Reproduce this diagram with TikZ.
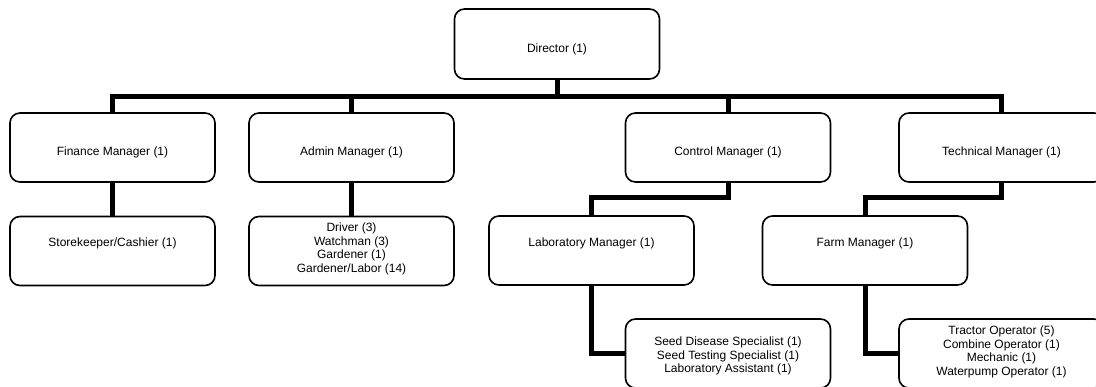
\documentclass[tikz,border=0pt]{standalone}
\usepackage{fontspec}
\setmainfont{Liberation Sans}
\tikzset{
  box/.style={draw=black, line width=1.6pt, rounded corners=10pt, fill=white,
    minimum width=205pt, minimum height=69pt, inner sep=0pt},
  lbl/.style={font=\fontsize{12}{13.7}\selectfont, align=center, inner sep=0pt},
  conn/.style={line width=5pt, line join=miter}
}
\begin{document}
\begin{tikzpicture}[x=1pt,y=-1pt]
\path[use as bounding box, clip] (0,0) rectangle (1096,386);
% boxes
\node[box, minimum height=70pt] (dir) at (557,44) {};
\node[box] (fin) at (112.5,147.5) {};
\node[box] (adm) at (351.5,147.5) {};
\node[box] (ctl) at (728,147.5) {};
\node[box] (tec) at (1001.5,147.5) {};
\node[box] (sto) at (112.5,251) {};
\node[box] (ads) at (351.5,251) {};
\node[box] (lab) at (591.5,250.5) {};
\node[box] (frm) at (865,250.5) {};
\node[box] (sed) at (728,353.5) {};
\node[box] (trc) at (1001.5,353.5) {};
% connectors
\coordinate (bus) at (0,96);
\coordinate (mid) at (0,197);
\draw[conn] (fin.north) -- (fin.north |- bus) -- (tec.north |- bus) -- (tec.north);
\draw[conn] (dir.south) -- (dir.south |- bus);
\draw[conn] (adm.north) -- (adm.north |- bus);
\draw[conn] (ctl.north) -- (ctl.north |- bus);
\draw[conn] (fin.south) -- (sto.north);
\draw[conn] (adm.south) -- (ads.north);
\draw[conn] (ctl.south) -- (ctl.south |- mid) -- (lab.north |- mid) -- (lab.north);
\draw[conn] (tec.south) -- (tec.south |- mid) -- (frm.north |- mid) -- (frm.north);
\draw[conn] (lab.south) -- (lab.south |- sed.west) -- (sed.west);
\draw[conn] (frm.south) -- (frm.south |- trc.west) -- (trc.west);
% texts
\node[lbl] (dir-t) at (557,49) {Director (1)};
\node[lbl] (fin-t) at (112.5,152) {Finance Manager (1)};
\node[lbl] (adm-t) at (351.5,152) {Admin Manager (1)};
\node[lbl] (ctl-t) at (728,152) {Control Manager (1)};
\node[lbl] (tec-t) at (1001.5,152) {Technical Manager (1)};
\node[lbl] (sto-t) at (112.5,243) {Storekeeper/Cashier (1)};
\node[lbl] (ads-t) at (351.5,249) {Driver (3)\\Watchman (3)\\Gardener (1)\\Gardener/Labor (14)};
\node[lbl] (lab-t) at (591.5,243) {Laboratory Manager (1)};
\node[lbl] (frm-t) at (865,243) {Farm Manager (1)};
\node[lbl] (sed-t) at (728,356) {Seed Disease Specialist (1)\\Seed Testing Specialist (1)\\Laboratory Assistant (1)};
\node[lbl] (trc-t) at (1001.5,352) {Tractor Operator (5)\\Combine Operator (1)\\Mechanic (1)\\Waterpump Operator (1)};
\end{tikzpicture}
\end{document}
